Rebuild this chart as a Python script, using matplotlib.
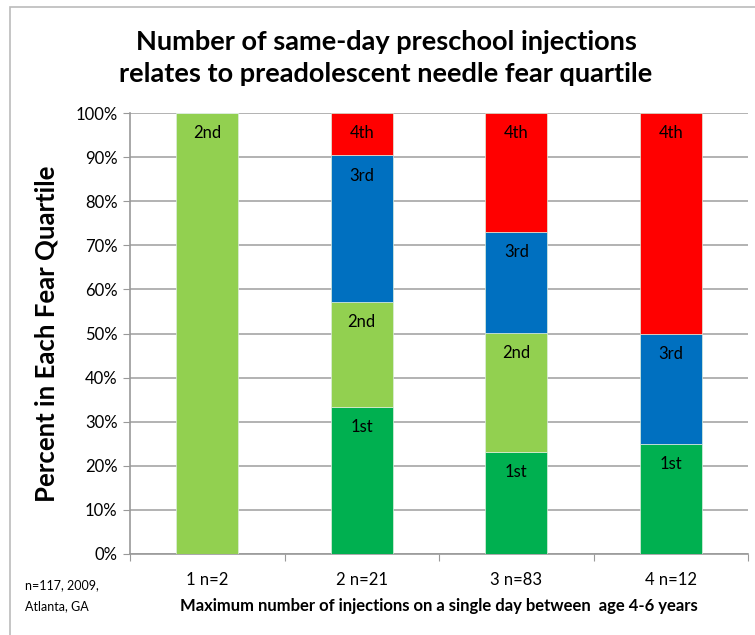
import numpy as np
import matplotlib.pyplot as plt
from matplotlib.patches import Rectangle

plt.rcParams['font.family'] = ['Lato', 'DejaVu Sans']

# data: percent of children in each fear quartile, per max injections group
categories = ['1 n=2', '2 n=21', '3 n=83', '4 n=12']
quartiles = ['1st', '2nd', '3rd', '4th']
first = [0, 33.3, 23.1, 25.0]
second = [100, 23.8, 27.0, 0]
third = [0, 33.3, 23.0, 25.0]
fourth = [0, 9.6, 26.9, 50.0]
colors = ['#00B050', '#92D050', '#0070C0', '#FF0000']

fig = plt.figure(figsize=(7.55, 6.35), dpi=100)
ax = fig.add_axes([130/755, 1 - 554/635, 618/755, 441/635])

# grey frame of the chart area (cropped on right / bottom)
fig.patches.append(Rectangle((10/755, -0.1), 1.2, 1 - 7/635 + 0.1, transform=fig.transFigure,
                             fill=False, edgecolor='#BBBBBB', linewidth=1.2))

x = np.arange(len(categories))
bottom = np.zeros(len(categories))
for name, vals, c in zip(quartiles, [first, second, third, fourth], colors):
    vals = np.array(vals, dtype=float)
    ax.bar(x, vals, 0.4, bottom=bottom, color=c, edgecolor='#DDEEDD', linewidth=0.5, zorder=3)
    for xi, v, b in zip(x, vals, bottom):
        if v > 0:
            ax.text(xi, b + v - 4.6, name, ha='center', va='center', fontsize=12, zorder=4)
    bottom += vals

ax.set_xlim(-0.5, 3.5)
ax.set_ylim(0, 100)
ax.set_yticks(np.arange(0, 101, 10))
ax.set_yticklabels([f'{t}%' for t in range(0, 101, 10)], fontsize=12)
ax.set_xticks(np.arange(-0.5, 3.6, 1), minor=False)
ax.set_xticklabels([])
ax.set_xticks(x, minor=True)
ax.set_xticklabels(categories, minor=True, fontsize=12)
ax.tick_params(axis='x', which='minor', length=0, pad=13)
ax.tick_params(axis='x', which='major', length=5, color='#999999')
ax.tick_params(axis='y', length=5, color='#999999', pad=4)
ax.grid(axis='y', color='#A6A6A6', linewidth=1.2, zorder=0)
for s in ['top', 'right']:
    ax.spines[s].set_visible(False)
for s in ['left', 'bottom']:
    ax.spines[s].set_color('#999999')
    ax.spines[s].set_linewidth(1.2)

ax.set_ylabel('Percent in Each Fear Quartile', fontsize=18.5, fontweight='bold', labelpad=12)
ax.set_xlabel('Maximum number of injections on a single day between  age 4-6 years',
              fontsize=12, fontweight='bold', labelpad=7)

fig.text(386/755, 1 - 58/635,
         'Number of same-day preschool injections\nrelates to preadolescent needle fear quartile',
         ha='center', va='center', fontsize=19.5, fontweight='bold', linespacing=1.45)
fig.text(25/755, 1 - 596/635, 'n=117, 2009,\nAtlanta, GA', ha='left', va='center',
         fontsize=9, linespacing=1.9)

fig.savefig('out.png', dpi=100)
